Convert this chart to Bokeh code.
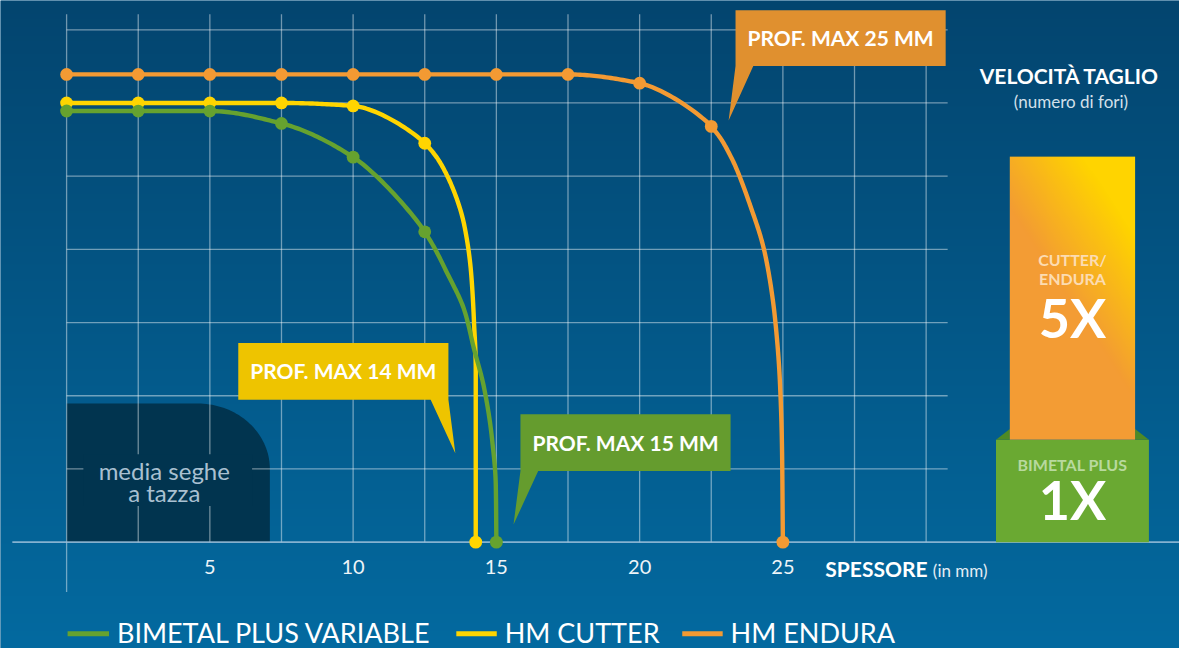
import numpy as np
from bokeh.plotting import figure
from bokeh.models import Range1d
from bokeh.core.properties import value
from bokeh.embed import file_html
from bokeh.resources import INLINE

# ------------------------------------------------------------------ data
x_ticks = [5, 10, 15, 20, 25]
x_tick_labels = ["5", "10", "15", "20", "25"]
grid_x = [2.5, 5, 7.5, 10, 12.5, 15, 17.5, 20, 22.5, 25, 27.5, 30]
grid_y = [1, 2, 3, 4, 5, 6, 7]

series_names = ["BIMETAL PLUS VARIABLE", "HM CUTTER", "HM ENDURA"]
series_colors = ["#66a22f", "#ffd500", "#f39a33"]

# BIMETAL PLUS VARIABLE (marked points + unmarked points)
bimetal_x = [0, 2.5, 5, 7.5, 10, 12.5, 15.0]
bimetal_y = [5.89, 5.89, 5.89, 5.72, 5.26, 4.24, 0.0]
bimetal_curve_x = [13.29, 13.88, 14.22, 14.57, 14.84, 14.98]
bimetal_curve_y = [3.67, 3.17, 2.64, 2.11, 1.44, 0.77]

# HM CUTTER
cutter_x = [0, 2.5, 5, 7.5, 10, 12.5, 14.28]
cutter_y = [6.0, 6.0, 6.0, 6.0, 5.96, 5.45, 0.0]
cutter_curve_x = [13.29, 13.88, 14.12, 14.22, 14.28, 14.28]
cutter_curve_y = [5.0, 4.33, 3.67, 3.0, 2.33, 1.0]

# HM ENDURA
endura_x = [0, 2.5, 5, 7.5, 10, 12.5, 15, 17.5, 20, 22.5, 25]
endura_y = [6.39, 6.39, 6.39, 6.39, 6.39, 6.39, 6.39, 6.39, 6.27, 5.68, 0.0]
endura_curve_x = [23.18, 23.86, 24.38, 24.73, 24.9, 24.97]
endura_curve_y = [5.27, 4.6, 3.93, 3.04, 2.16, 1.27]

callout_texts = ["PROF. MAX 14 MM", "PROF. MAX 15 MM", "PROF. MAX 25 MM"]
callout_colors = ["#eec400", "#659c2e", "#e0902f"]

speed_title = "VELOCITÀ TAGLIO"
speed_subtitle = "(numero di fori)"
speed_top_label = ["CUTTER/", "ENDURA"]
speed_top_value = "5X"
speed_bottom_label = "BIMETAL PLUS"
speed_bottom_value = "1X"
axis_title = "SPESSORE"
axis_unit = "(in mm)"
zone_label = ["media seghe", "a tazza"]

# ------------------------------------------------------------------ layout helpers
# reference-picture pixel -> data units (the whole 1195x664 picture is scaled into the canvas)
KX, KY = 29.04, 75.0
X0, Y0 = 67.0, 555.0
RW, RH = 1195, 664
W, H = 1179, 648
FONT = value("Lato")


def X(px):
    return (px - X0) / KX


def Y(py):
    return (Y0 - py) / KY


def TB(baseline, size):
    # measured offset between requested and rendered alphabetic baseline (~0.41 em)
    return Y(baseline - 0.41 * size)


def smooth(xs, ys, n=30):
    """Monotone (per component) parametric cubic Hermite through the points."""
    P = np.column_stack([np.asarray(xs, float), np.asarray(ys, float)])
    D = np.diff(P, axis=0)
    N = len(P)
    M = np.zeros_like(P)
    M[0] = D[0]
    M[-1] = D[-1]
    for i in range(1, N - 1):
        for k in range(2):
            a, b = D[i - 1, k], D[i, k]
            M[i, k] = 2 * a * b / (a + b) if a * b > 0 else 0.0
    t = np.linspace(0, 1, n, endpoint=False)[:, None]
    h00 = 2 * t**3 - 3 * t**2 + 1
    h10 = t**3 - 2 * t**2 + t
    h01 = -2 * t**3 + 3 * t**2
    h11 = t**3 - t**2
    segs = [h00 * P[i] + h10 * M[i] + h01 * P[i + 1] + h11 * M[i + 1] for i in range(N - 1)]
    segs.append(P[-1][None, :])
    Q = np.vstack(segs)
    return Q[:, 0], Q[:, 1]


def rgba_image(rgb):
    h, w, _ = rgb.shape
    img = np.empty((h, w), dtype=np.uint32)
    v = img.view(dtype=np.uint8).reshape((h, w, 4))
    v[..., 0] = rgb[..., 0]
    v[..., 1] = rgb[..., 1]
    v[..., 2] = rgb[..., 2]
    v[..., 3] = 255
    return img


def label(xs, baselines, texts, size, color="white", bold=False, align="center"):
    p.text(x=xs, y=[TB(b, size) for b in baselines], text=texts, text_font=FONT,
           text_font_style="bold" if bold else "normal", text_font_size=f"{size}px",
           text_color=color, text_align=align, text_baseline="alphabetic")


p = figure(width=W, height=H,
           x_range=Range1d(X(0), X(RW)), y_range=Range1d(Y(RH), Y(0)),
           output_backend="svg", toolbar_location=None, min_border=0,
           x_axis_location=None, y_axis_location=None,
           outline_line_color=None,
           background_fill_color="#04578a", border_fill_color="#04578a")
p.xgrid.visible = False
p.ygrid.visible = False

# ---- background vertical gradient
top = np.array([4, 69, 111], float)
bot = np.array([3, 106, 160], float)
rows = RH - (np.arange(H) + 0.5) * RH / H        # reference y of each row, bottom row first
tt = (rows / RH)[:, None, None]
bg = (top * (1 - tt) + bot * tt) * np.ones((H, 2, 1))
p.image_rgba(image=[rgba_image(bg.astype(np.uint8))], x=X(0), y=Y(RH),
             dw=RW / KX, dh=RH / KY)

# ---- "media seghe a tazza" zone
zx0, zx1, zy0 = 67, 273, 413
rx, ry = 73, 67
th = np.linspace(np.pi / 2, 0, 40)
cx, cy = zx1 - rx, zy0 + ry
zone_px = [zx0, zx0, cx] + list(cx + rx * np.cos(th)) + [zx1, zx1]
zone_py = [555, zy0, zy0] + list(cy - ry * np.sin(th)) + [cy, 555]
p.patch([X(v) for v in zone_px], [Y(v) for v in zone_py], fill_color="#01344f", line_color=None)

# ---- grid
grid_col, grid_alpha, grid_w = "#ffffff", 0.44, 1.3
p.segment(x0=grid_x, y0=[0] * len(grid_x), x1=grid_x, y1=[Y(14)] * len(grid_x),
          line_color=grid_col, line_alpha=grid_alpha, line_width=grid_w)
p.segment(x0=[0] * len(grid_y), y0=grid_y, x1=[X(960)] * len(grid_y), y1=grid_y,
          line_color=grid_col, line_alpha=grid_alpha, line_width=grid_w)
p.segment(x0=[0], y0=[Y(606)], x1=[0], y1=[Y(14)],
          line_color=grid_col, line_alpha=grid_alpha, line_width=grid_w)
p.segment(x0=[X(12)], y0=[0], x1=[X(1200)], y1=[0],
          line_color="#9cc0da", line_alpha=0.85, line_width=1.6)

# mask behind the zone label + label
p.quad(left=[X(84)], right=[X(255)], top=[Y(465)], bottom=[Y(518)], fill_color="#01344f", line_color=None)
label([X(166), X(166)], [491, 514], zone_label, 24, color="#a9c0d1")

# ---- callouts
callout_shapes = [
    [(241, 351), (454, 351), (454, 409), (461, 464), (436, 409), (241, 409)],
    [(527, 424), (740, 424), (740, 482), (545, 482), (520, 537), (527, 482)],
    [(745, 10), (958, 10), (958, 67), (763, 67), (738, 123), (745, 67)],
]
callout_text_pos = [(347.5, 388), (633.5, 461.5), (851.5, 47)]
p.patches(xs=[[X(a) for a, b in s] for s in callout_shapes],
          ys=[[Y(b) for a, b in s] for s in callout_shapes],
          fill_color=callout_colors, line_color=None)
label([X(a) for a, b in callout_text_pos], [b for a, b in callout_text_pos], callout_texts, 21, bold=True)

# ---- series lines + markers (orange, yellow, green on top)
series = [
    (endura_x, endura_y, endura_curve_x, endura_curve_y, series_colors[2]),
    (cutter_x, cutter_y, cutter_curve_x, cutter_curve_y, series_colors[1]),
    (bimetal_x, bimetal_y, bimetal_curve_x, bimetal_curve_y, series_colors[0]),
]
for mx, my, cxs, cys, col in series:
    lx = list(mx[:-1]) + list(cxs) + [mx[-1]]
    ly = list(my[:-1]) + list(cys) + [my[-1]]
    sx, sy = smooth(lx, ly)
    p.line(sx, sy, line_color=col, line_width=4.4, line_join="round", line_cap="round")
    p.scatter(mx, my, size=12.8, fill_color=col, line_color=None)

# ---- axis labels
label(x_ticks, [589] * len(x_ticks), x_tick_labels, 20, color="#eef4f8")
label([X(836)], [591], [axis_title], 21, bold=True, align="left")
label([X(945)], [591], [axis_unit], 17, color="#e4edf4", align="left")

# ---- speed panel
label([X(1083.5)], [85], [speed_title], 21, bold=True)
label([X(1085)], [110], [speed_subtitle], 17, color="#d3e0ea")

gx0, gx1, gy0 = 1009, 1164, 450
ox0, ox1, oy0 = 1023, 1150, 160
p.quad(left=[X(gx0)], right=[X(gx1)], top=[Y(gy0)], bottom=[0], fill_color="#6aa932", line_color=None)
p.patches(xs=[[X(gx0), X(ox0), X(ox0)], [X(ox1), X(gx1), X(ox1)]],
          ys=[[Y(gy0), Y(439), Y(gy0)], [Y(439), Y(gy0), Y(gy0)]],
          fill_color="#4e8a26", line_color=None)

bw, bh = ox1 - ox0, gy0 - oy0
cc = ox0 + np.arange(bw) + 0.5
rr = gy0 - np.arange(bh) - 0.5
XX, YY = np.meshgrid(cc, rr)
nrm = np.hypot(140, 90)
s = ((XX - (ox0 + 37)) * 140 - (YY - oy0) * 90) / nrm
t = np.clip((s + 60) / 90.0, 0, 1)[..., None]
c_or = np.array([243, 156, 52], float)
c_ye = np.array([255, 212, 0], float)
grad = c_or * (1 - t) + c_ye * t
p.image_rgba(image=[rgba_image(grad.astype(np.uint8))], x=X(ox0), y=Y(gy0), dw=bw / KX, dh=bh / KY)

bx = X(1086.5)
label([bx, bx], [272, 291], speed_top_label, 16, color="#fcdcb2", bold=True)
label([bx], [347], [speed_top_value], 54, bold=True)
label([bx], [482], [speed_bottom_label], 16, color="#b8d99e", bold=True)
label([bx], [533], [speed_bottom_value], 54, bold=True)

# ---- legend
leg_line = [(68, 110), (462, 503), (691, 732)]
leg_text_x = [118, 511, 740]
p.segment(x0=[X(a) for a, b in leg_line], y0=[Y(649)] * 3,
          x1=[X(b) for a, b in leg_line], y1=[Y(649)] * 3,
          line_color=series_colors, line_width=5)
label([X(v) for v in leg_text_x], [659] * 3, series_names, 27, align="left")

open("out.html", "w").write(file_html(p, INLINE))
